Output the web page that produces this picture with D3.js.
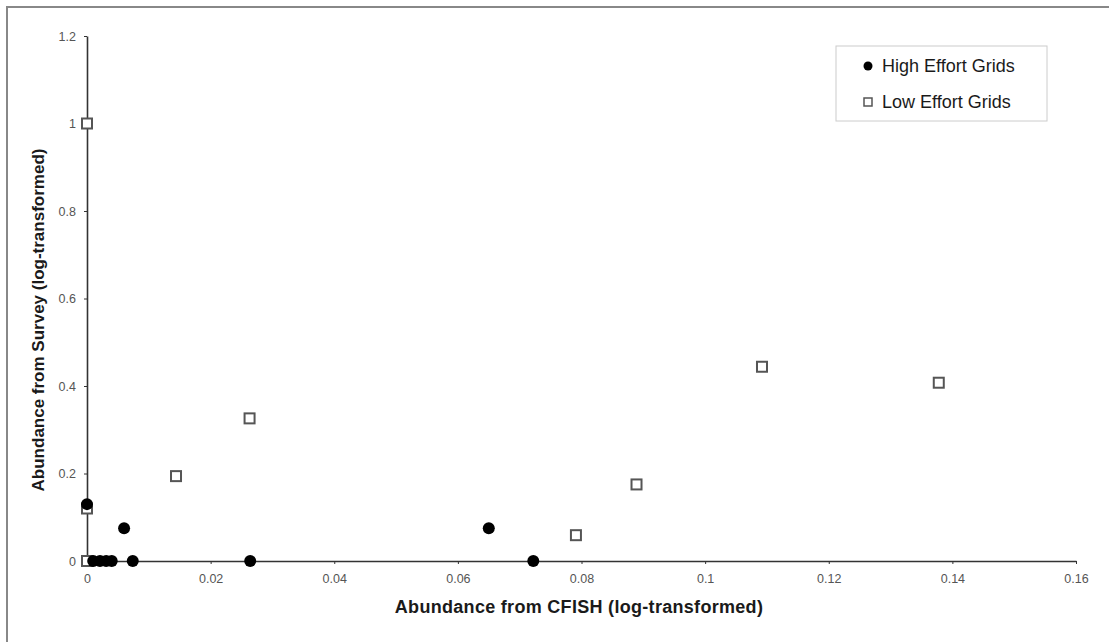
<!DOCTYPE html>
<html><head><meta charset="utf-8">
<script src="https://cdn.jsdelivr.net/npm/d3@7"></script>
<style>
html,body{margin:0;padding:0;background:#fff;}
svg{display:block;}
text{font-family:"Liberation Sans",Arial,sans-serif;}
</style></head>
<body>
<svg id="c" width="1109" height="642"></svg>
<script>
const xTicks = [0, 0.02, 0.04, 0.06, 0.08, 0.1, 0.12, 0.14, 0.16];
const yTicks = [0, 0.2, 0.4, 0.6, 0.8, 1.0, 1.2];
const highX = [0, 0.006, 0.001, 0.0021, 0.0031, 0.004, 0.0074, 0.0264, 0.065, 0.0722];
const highY = [0.13, 0.075, 0, 0, 0, 0, 0, 0, 0.075, 0];
const lowX = [0, 0, 0, 0.0144, 0.0263, 0.0791, 0.0889, 0.1092, 0.1378];
const lowY = [1.0, 0.12, 0, 0.194, 0.326, 0.059, 0.175, 0.444, 0.4075];
const seriesNames = ["High Effort Grids", "Low Effort Grids"];
const xTitle = "Abundance from CFISH (log-transformed)";
const yTitle = "Abundance from Survey (log-transformed)";

const svg = d3.select("#c");
// outer frame (left and top only visible)
svg.append("path").attr("d","M7,642 V7 H1109").attr("fill","none").attr("stroke","#888").attr("stroke-width",2);

const x = d3.scaleLinear().domain([0,0.16]).range([87,1076]);
const y = d3.scaleLinear().domain([0,1.2]).range([561,36]);

const fmt = d => d===0 ? "0" : String(+d.toFixed(2));

const xa = svg.append("g").attr("transform","translate(0,561)")
  .call(d3.axisBottom(x).tickValues(xTicks).tickFormat(fmt).tickSize(3).tickSizeOuter(0).tickPadding(10));
const ya = svg.append("g").attr("transform","translate(87,0)")
  .call(d3.axisLeft(y).tickValues(yTicks).tickFormat(fmt).tickSize(3).tickSizeOuter(0).tickPadding(8));
[xa,ya].forEach(a=>{
  a.select(".domain").attr("stroke","#333").attr("stroke-width",1.6);
  a.selectAll(".tick line").attr("stroke","#333");
  a.selectAll(".tick text").attr("fill","#555").style("font-size","12.5px");
});

// axis titles
svg.append("text").attr("x",579).attr("y",613).attr("text-anchor","middle")
  .style("font-size","18px").style("font-weight","bold").style("letter-spacing","0.3px")
  .attr("fill","#1a1a1a").text(xTitle);
svg.append("text").attr("transform","translate(44,320) rotate(-90)").attr("text-anchor","middle")
  .style("font-size","17px").style("font-weight","bold").attr("fill","#1a1a1a").text(yTitle);

// points
const hi = highX.map((v,i)=>({x:v,y:highY[i]}));
const lo = lowX.map((v,i)=>({x:v,y:lowY[i]}));
svg.append("g").selectAll("rect").data(lo).join("rect")
  .attr("x",d=>x(d.x)-5).attr("y",d=>y(d.y)-5).attr("width",10).attr("height",10)
  .attr("fill","#fff").attr("stroke","#555").attr("stroke-width",2);
svg.append("g").selectAll("circle").data(hi).join("circle")
  .attr("cx",d=>x(d.x)).attr("cy",d=>y(d.y)).attr("r",6).attr("fill","#000");

// legend
const lg = svg.append("g");
lg.append("rect").attr("x",836).attr("y",46).attr("width",211).attr("height",75)
  .attr("fill","#fff").attr("stroke","#ccc").attr("stroke-width",1);
lg.append("circle").attr("cx",868).attr("cy",66).attr("r",4.5).attr("fill","#000");
lg.append("rect").attr("x",864).attr("y",98).attr("width",8).attr("height",8)
  .attr("fill","#fff").attr("stroke","#555").attr("stroke-width",1.5);
lg.append("text").attr("x",882).attr("y",72).style("font-size","18px").attr("fill","#1a1a1a").text(seriesNames[0]);
lg.append("text").attr("x",882).attr("y",108).style("font-size","18px").attr("fill","#1a1a1a").text(seriesNames[1]);
</script>
</body></html>
